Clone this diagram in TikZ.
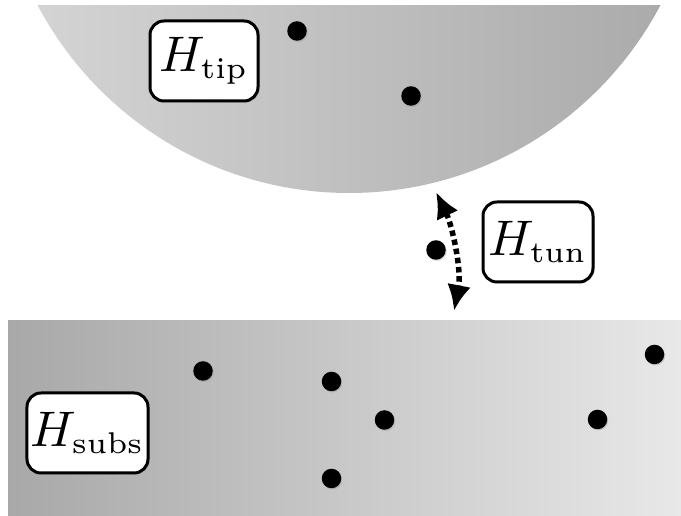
\documentclass[tikz,border=0pt]{standalone}
\usetikzlibrary{arrows.meta,shadows}
\newcommand{\hsub}[1]{\mbox{\fontsize{6}{7}\selectfont #1}}
\begin{document}
\begin{tikzpicture}[x=0.2pt,y=-0.2pt,
  particle/.style={circle,fill=black,inner sep=0pt,minimum size=3.9pt,
    drop shadow={shadow xshift=0.2pt,shadow yshift=-0.25pt,opacity=0.3}},
  hambox/.style={draw=black,line width=0.6pt,rounded corners=2.8pt,fill=white,
    inner sep=0pt,minimum height=16pt,font=\fontsize{9.8}{12}\selectfont,
    drop shadow={shadow xshift=0.3pt,shadow yshift=-0.3pt,opacity=0.35}},
  tunarrow/.style={line width=1.1pt,dash pattern=on 1.1pt off 0.75pt,
    {Latex[length=5.2pt,width=4.8pt]}-{Latex[length=5.2pt,width=4.8pt]}}]
\useasboundingbox (0,0) rectangle (681,516);
% tip
\begin{scope}
  \clip (0,6) rectangle (681,516);
  \shade[left color=black!16,right color=black!34] (349,-159) circle (352);
\end{scope}
% substrate
\shade[left color=black!34,right color=black!9] (8,321) rectangle (681,516);
% boxes
\node[hambox,minimum width=21.6pt] (htip) at (204,61) {$H_{\hsub{tip}}$};
\node[hambox,minimum width=22pt] (htun) at (538,242) {$H_{\hsub{tun}}$};
\node[hambox,minimum width=24.2pt] (hsubs) at (87.5,433) {$H_{\hsub{subs}}$};
% particles
\node[particle] (t1) at (297,31) {};
\node[particle] (t2) at (411,96) {};
\node[particle] (m1) at (436,250) {};
\node[particle] (s1) at (203,371) {};
\node[particle] (s2) at (331.5,381.5) {};
\node[particle] (s3) at (384.5,420) {};
\node[particle] (s4) at (331.5,478.5) {};
\node[particle] (s5) at (597.5,419.5) {};
\node[particle] (s6) at (654.5,354.5) {};
% tunnelling arrow
\coordinate (tunup) at (436,192);
\coordinate (tundown) at (454,311);
\draw[tunarrow] (tunup) .. controls (452,225) and (462,270) .. (tundown);
\end{tikzpicture}
\end{document}
